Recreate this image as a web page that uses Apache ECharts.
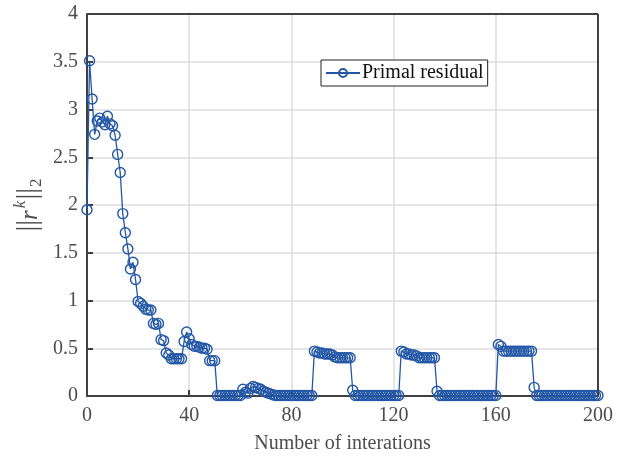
<!DOCTYPE html>
<html>
<head>
<meta charset="utf-8">
<script src="https://cdn.jsdelivr.net/npm/echarts@6/dist/echarts.min.js"></script>
<style>html,body{margin:0;padding:0;background:#fff}#c{width:621px;height:456px}</style>
</head>
<body>
<div id="c"></div>
<script>
const seriesName = 'Primal residual';
const xTicks = [0, 40, 80, 120, 160, 200];
const yTicks = [0, 0.5, 1, 1.5, 2, 2.5, 3, 3.5, 4];
// residual per iteration, index = iteration number 0..200
const residual = [
  1.95, 3.51, 3.11, 2.74, 2.88, 2.91, 2.87, 2.84, 2.93, 2.85,
  2.83, 2.73, 2.53, 2.34, 1.91, 1.71, 1.54, 1.33, 1.40, 1.22,
  0.99, 0.97, 0.94, 0.91, 0.90, 0.90, 0.76, 0.75, 0.76, 0.59,
  0.58, 0.45, 0.43, 0.39, 0.39, 0.39, 0.39, 0.39, 0.57, 0.67,
  0.60, 0.54, 0.52, 0.52, 0.51, 0.50, 0.50, 0.49, 0.37, 0.37,
  0.37, 0.005, 0.005, 0.005, 0.005, 0.005, 0.005, 0.005, 0.005, 0.005,
  0.005, 0.07, 0.04, 0.03, 0.08, 0.10, 0.09, 0.08, 0.07, 0.05,
  0.04, 0.03, 0.02, 0.01, 0.005, 0.005, 0.005, 0.005, 0.005, 0.005,
  0.005, 0.005, 0.005, 0.005, 0.005, 0.005, 0.005, 0.005, 0.005, 0.47,
  0.46, 0.45, 0.45, 0.44, 0.44, 0.44, 0.43, 0.41, 0.40, 0.40,
  0.40, 0.40, 0.40, 0.40, 0.06, 0.005, 0.005, 0.005, 0.005, 0.005,
  0.005, 0.005, 0.005, 0.005, 0.005, 0.005, 0.005, 0.005, 0.005, 0.005,
  0.005, 0.005, 0.005, 0.47, 0.46, 0.44, 0.44, 0.43, 0.43, 0.42,
  0.40, 0.40, 0.40, 0.40, 0.40, 0.40, 0.40, 0.05, 0.005, 0.005,
  0.005, 0.005, 0.005, 0.005, 0.005, 0.005, 0.005, 0.005, 0.005, 0.005,
  0.005, 0.005, 0.005, 0.005, 0.005, 0.005, 0.005, 0.005, 0.005, 0.005,
  0.005, 0.54, 0.52, 0.47, 0.47, 0.47, 0.47, 0.47, 0.47, 0.47,
  0.47, 0.47, 0.47, 0.47, 0.47, 0.09, 0.005, 0.005, 0.005, 0.005,
  0.005, 0.005, 0.005, 0.005, 0.005, 0.005, 0.005, 0.005, 0.005, 0.005,
  0.005, 0.005, 0.005, 0.005, 0.005, 0.005, 0.005, 0.005, 0.005, 0.005,
  0.005
];
const points = residual.map((v, i) => [i, v]);

const FONT = 'Liberation Serif';
const AXC = '#404040';
const TXT = '#4d4d4d';
const BLUE = '#2357a6';

const chart = echarts.init(document.getElementById('c'), null, {renderer: 'canvas'});
chart.setOption({
  animation: false,
  backgroundColor: '#fff',
  grid: {left: 87, right: 23, top: 14, bottom: 60, containLabel: false, outerBoundsMode: 'none'},
  legend: {
    data: [seriesName],
    left: 321, top: 60,
    orient: 'vertical',
    backgroundColor: '#fff',
    borderColor: '#222', borderWidth: 1,
    padding: [3, 4, 3, 4],
    itemWidth: 34, itemHeight: 10, itemGap: 2,
    textStyle: {fontFamily: FONT, fontSize: 20, color: '#111', padding: [0, 0, 0, -3]}
  },
  xAxis: {
    type: 'value', min: 0, max: 200, interval: 40,
    name: 'Number of interations', nameLocation: 'middle', nameGap: 38,
    nameMoveOverlap: false,
    nameTextStyle: {fontFamily: FONT, fontSize: 20, color: TXT},
    axisLine: {show: true, lineStyle: {color: AXC, width: 2}},
    axisTick: {show: true, inside: true, length: 6, lineStyle: {color: AXC, width: 2}},
    axisLabel: {fontFamily: FONT, fontSize: 20, color: TXT, margin: 10,
      formatter: v => xTicks.includes(v) ? String(v) : ''},
    splitLine: {show: true, lineStyle: {color: '#dcdcdc', width: 1.5}}
  },
  yAxis: {
    type: 'value', min: 0, max: 4, interval: 0.5,
    name: '{n|||}{r|r}{k|k}{n|||}{s|2}', nameLocation: 'middle', nameGap: 42, nameRotate: 90,
    nameMoveOverlap: false,
    nameTextStyle: {
      fontFamily: FONT, fontSize: 29, color: TXT,
      rich: {
        n: {fontFamily: FONT, fontSize: 29, color: TXT, verticalAlign: 'middle'},
        r: {fontFamily: FONT, fontSize: 25, fontStyle: 'italic', color: TXT, verticalAlign: 'middle', padding: [3, 0, 0, 0]},
        k: {fontFamily: FONT, fontSize: 17, fontStyle: 'italic', color: TXT, verticalAlign: 'top', padding: [0, 1, 16, 2]},
        s: {fontFamily: FONT, fontSize: 17, color: TXT, verticalAlign: 'bottom', padding: [16, 0, 0, 1]}
      }
    },
    axisLine: {show: true, lineStyle: {color: AXC, width: 2}},
    axisTick: {show: true, inside: true, length: 6, lineStyle: {color: AXC, width: 2}},
    axisLabel: {fontFamily: FONT, fontSize: 20, color: TXT, margin: 9,
      formatter: v => yTicks.includes(v) ? String(v) : ''},
    splitLine: {show: true, lineStyle: {color: '#dcdcdc', width: 1.5}}
  },
  series: [{
    name: seriesName,
    type: 'line',
    data: points,
    showAllSymbol: true,
    symbol: 'circle',
    symbolSize: 10,
    color: BLUE,
    lineStyle: {color: BLUE, width: 1.3},
    itemStyle: {color: 'rgba(255,255,255,0)', borderColor: BLUE, borderWidth: 1.4}
  }],
  graphic: [
    {type: 'line', z: 100, shape: {x1: 87, y1: 14, x2: 598, y2: 14}, style: {stroke: AXC, lineWidth: 2}},
    {type: 'line', z: 100, shape: {x1: 598, y1: 14, x2: 598, y2: 396}, style: {stroke: AXC, lineWidth: 2}}
  ]
});
</script>
</body>
</html>
